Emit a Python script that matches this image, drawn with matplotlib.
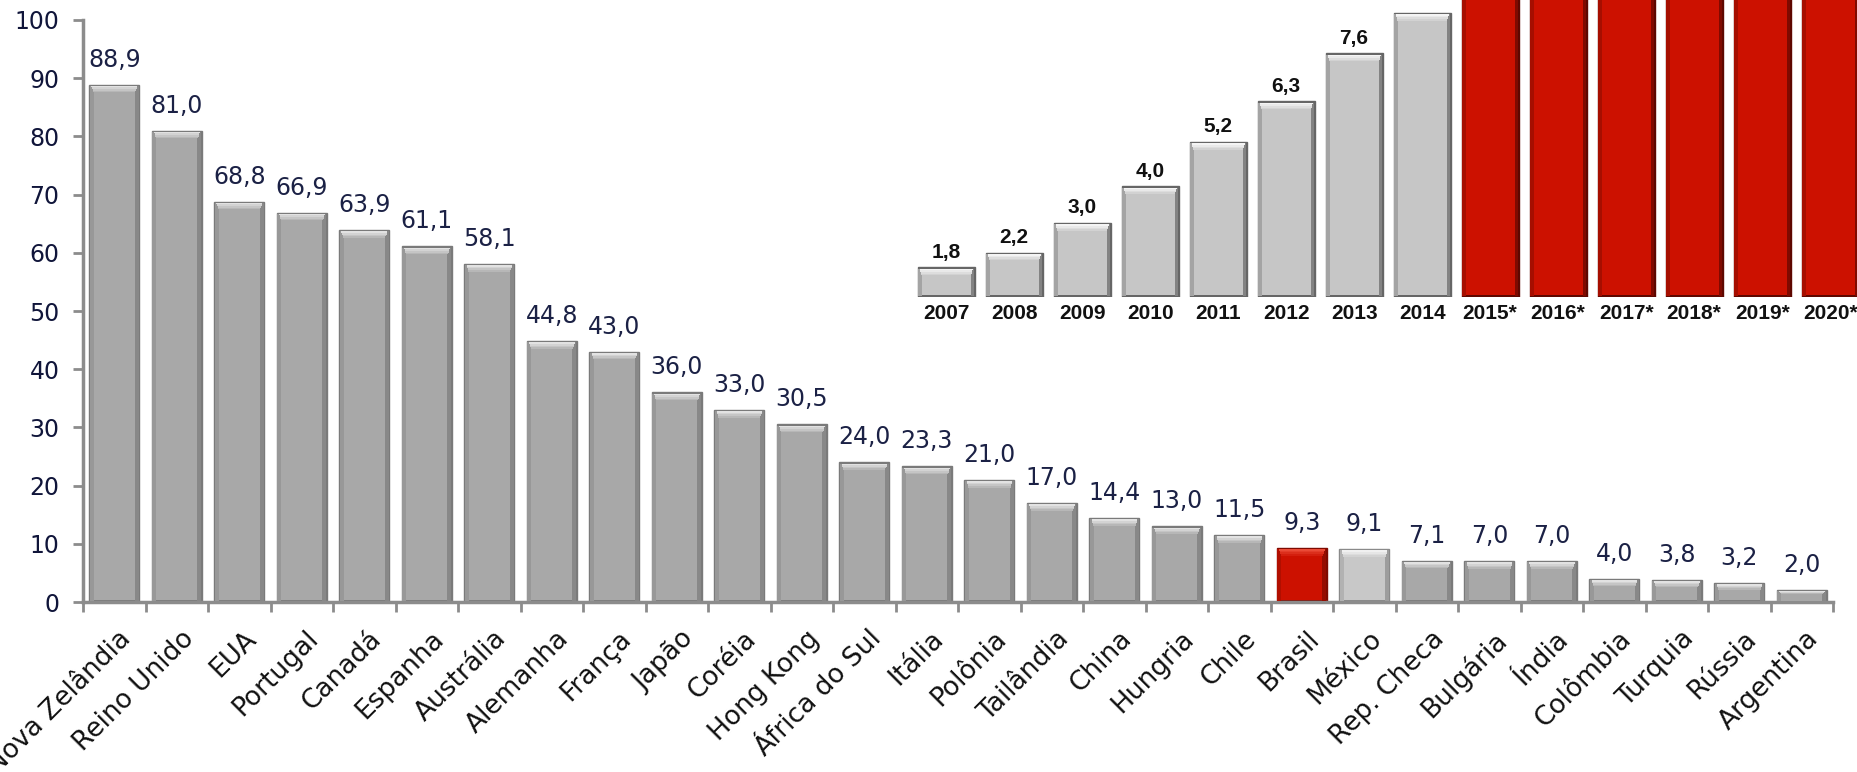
import matplotlib
matplotlib.use("Agg")
import matplotlib.pyplot as plt
import matplotlib.transforms as mtransforms
from matplotlib.colors import to_rgb

# main chart data
countries = ["Nova Zelândia", "Reino Unido", "EUA", "Portugal", "Canadá", "Espanha",
             "Austrália", "Alemanha", "França", "Japão", "Coréia", "Hong Kong",
             "África do Sul", "Itália", "Polônia", "Tailândia", "China", "Hungria",
             "Chile", "Brasil", "México", "Rep. Checa", "Bulgária", "Índia",
             "Colômbia", "Turquia", "Rússia", "Argentina"]
values = [88.9, 81.0, 68.8, 66.9, 63.9, 61.1, 58.1, 44.8, 43.0, 36.0, 33.0, 30.5,
          24.0, 23.3, 21.0, 17.0, 14.4, 13.0, 11.5, 9.3, 9.1, 7.1, 7.0, 7.0,
          4.0, 3.8, 3.2, 2.0]
highlight = "Brasil"
light_one = "México"

# inset data (2014 and projections are cut off at the top of the picture)
years = ["2007", "2008", "2009", "2010", "2011", "2012", "2013", "2014",
         "2015*", "2016*", "2017*", "2018*", "2019*", "2020*"]
year_vals = [1.8, 2.2, 3.0, 4.0, 5.2, 6.3, 7.6, 8.7,
             9.5, 9.5, 9.5, 9.5, 9.5, 9.5]
year_labeled = [True, True, True, True, True, True, True, False,
                False, False, False, False, False, False]


def mix(c1, c2, t):
    a, b = to_rgb(c1), to_rgb(c2)
    return tuple(a[k] + (b[k] - a[k]) * t for k in range(3))


def bevel_bar(ax, x, h, w, face, light, dark, tx, ty, base=0.0):
    ty = min(ty, 0.35 * (h - base))
    # outer frame
    ax.bar(x, h - base, bottom=base, width=w, color=dark, edgecolor=dark,
           linewidth=1.0, zorder=2)
    # side shading: left a bit lighter, right darker
    ax.bar(x - w / 2 + tx * 0.55, h - base - ty * 0.3, bottom=base + ty * 0.15,
           width=tx * 0.9, color=mix(face, dark, 0.35), linewidth=0, zorder=3)
    ax.bar(x + w / 2 - tx * 0.55, h - base - ty * 0.3, bottom=base + ty * 0.15,
           width=tx * 0.9, color=mix(face, dark, 0.7), linewidth=0, zorder=3)
    # face
    ax.bar(x, h - base - ty * 0.5, bottom=base + ty * 0.25, width=w - 2 * tx,
           color=face, linewidth=0, zorder=3)
    # top bevel as a small gradient
    n = 5
    for k in range(n):
        t = k / (n - 1)
        ax.bar(x, ty / n, bottom=h - ty * 0.15 - ty * (k + 1) / n,
               width=w - 2 * tx * (0.5 + 0.5 * t), color=mix(light, face, t),
               linewidth=0, zorder=4)


fig = plt.figure(figsize=(18.58, 7.72), dpi=100)
ax = fig.add_axes([0.0447, 0.2202, 0.9419, 0.7539])

for i, (c, v) in enumerate(zip(countries, values)):
    if c == highlight:
        bevel_bar(ax, i, v, 0.8, "#cc1100", "#ea4a36", "#7e0a00", 0.07, 1.4)
    elif c == light_one:
        bevel_bar(ax, i, v, 0.8, "#c8c8c8", "#f0f0f0", "#8a8a8a", 0.07, 1.4)
    else:
        bevel_bar(ax, i, v, 0.8, "#a8a8a8", "#e2e2e2", "#7a7a7a", 0.07, 1.4)
    ax.annotate(f"{v:.1f}".replace(".", ","), (i, v), xytext=(0, 13),
                textcoords="offset points", ha="center", va="baseline",
                fontsize=17, color="#1b2145")

ax.set_xlim(-0.5, len(countries) - 0.5)
ax.set_ylim(0, 100)
ax.set_yticks(range(0, 101, 10))
ax.tick_params(axis="y", length=7, width=2, color="#8c8c8c", pad=10,
               labelsize=17, labelcolor="#10153a")
ax.set_xticks(range(len(countries)))
ax.set_xticks([i - 0.5 for i in range(len(countries) + 1)], minor=True)
ax.tick_params(axis="x", which="major", length=0, pad=17)
ax.tick_params(axis="x", which="minor", length=7, width=2, color="#8c8c8c")
ax.set_xticklabels(countries, rotation=45, ha="right", va="top",
                   rotation_mode="anchor", fontsize=19, color="#111111")
shift = mtransforms.ScaledTranslation(4 / 100, 0, fig.dpi_scale_trans)
for lab in ax.get_xticklabels():
    lab.set_transform(lab.get_transform() + shift)

for s in ["top", "right"]:
    ax.spines[s].set_visible(False)
for s in ["left", "bottom"]:
    ax.spines[s].set_color("#8c8c8c")
    ax.spines[s].set_linewidth(2.5)

# inset
ax2 = fig.add_axes([0.4909, 0.6153, 0.5124, 0.3847])
ax2.patch.set_alpha(0)
for i, (y, v) in enumerate(zip(years, year_vals)):
    if y.endswith("*"):
        bevel_bar(ax2, i, v, 0.84, "#cc1100", "#dd3a26", "#5e0700", 0.06, 0.22, base=1.0)
    else:
        bevel_bar(ax2, i, v, 0.84, "#c6c6c6", "#f4f4f4", "#666666", 0.06, 0.22, base=1.0)
for i, (v, show) in enumerate(zip(year_vals, year_labeled)):
    if show:
        ax2.annotate(f"{v:.1f}".replace(".", ","), (i, v), xytext=(0, 7),
                     textcoords="offset points", ha="center", va="baseline",
                     fontsize=15, fontweight="bold", family="Liberation Sans",
                     color="#111111")
ax2.set_xlim(-0.5, len(years) - 0.5)
ax2.set_ylim(1.0, 9.05)
ax2.set_xticks(range(len(years)))
ax2.set_xticklabels(years, fontsize=15, fontweight="bold", family="Liberation Sans",
                    color="#111111")
ax2.tick_params(axis="x", length=0, pad=5)
ax2.set_yticks([])
for s in ax2.spines.values():
    s.set_visible(False)

fig.savefig("out.png", dpi=100)
